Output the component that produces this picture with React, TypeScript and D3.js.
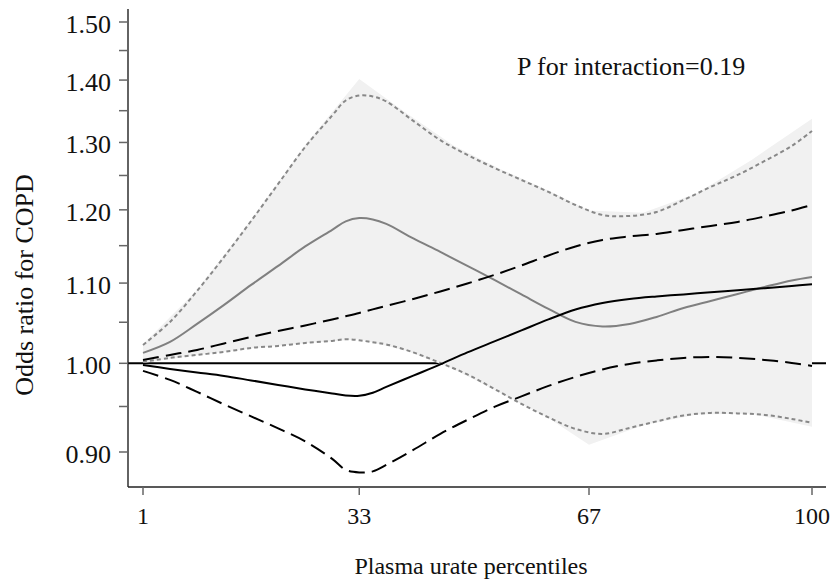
import React from "react";
import * as d3 from "d3";

// ---- data ----
const linePct = [1, 5, 9, 13, 17, 21, 25, 29, 31, 33, 35, 37, 41, 45, 49, 53, 57, 61, 65, 69, 73, 77, 81, 85, 89, 93, 97, 100];

// grey group: estimate and 95% CI (dotted)
const greyEst = [1.01243, 1.02574, 1.04791, 1.07182, 1.09758, 1.12263, 1.14894, 1.1719, 1.18368, 1.18825, 1.18638, 1.18005, 1.1599, 1.14146, 1.12263, 1.10412, 1.08527, 1.06674, 1.0504, 1.0448, 1.04791, 1.05665, 1.06801, 1.07693, 1.08592, 1.09498, 1.10347, 1.10806];
const greyUpper = [1.02209, 1.0504, 1.08979, 1.1347, 1.18427, 1.23748, 1.29307, 1.34236, 1.36648, 1.37462, 1.37299, 1.36486, 1.33373, 1.30361, 1.28082, 1.26120, 1.24337, 1.22578, 1.20697, 1.19274, 1.19132, 1.19700, 1.21418, 1.23308, 1.25078, 1.27174, 1.2946, 1.31787];
const greyLower = [1.00166, 1.00643, 1.01003, 1.01363, 1.01846, 1.02088, 1.02452, 1.02696, 1.02904, 1.02781, 1.02525, 1.0227, 1.01303, 1.00048, 0.9869, 0.97006, 0.95293, 0.93778, 0.92505, 0.91957, 0.92615, 0.93333, 0.94, 0.9428, 0.94224, 0.94056, 0.93609, 0.93166];

// black group: estimate and 95% CI (long dash)
const blackEst = [0.9981, 0.99337, 0.98925, 0.98515, 0.9799, 0.97467, 0.96948, 0.96488, 0.96248, 0.96214, 0.96568, 0.97236, 0.98543, 0.99869, 1.01303, 1.02635, 1.03985, 1.05352, 1.06611, 1.07437, 1.07949, 1.0827, 1.08527, 1.08811, 1.0907, 1.09342, 1.09628, 1.0985];
const blackUpper = [1.00405, 1.01003, 1.01604, 1.02392, 1.03186, 1.03922, 1.04604, 1.05352, 1.05752, 1.06166, 1.06615, 1.07055, 1.07949, 1.08911, 1.09952, 1.1107, 1.12330, 1.13672, 1.14894, 1.15790, 1.16267, 1.16612, 1.17168, 1.17725, 1.18287, 1.19061, 1.19913, 1.20698];
const blackLower = [0.99101, 0.98048, 0.96661, 0.95236, 0.93889, 0.9256, 0.91142, 0.89266, 0.88108, 0.87847, 0.87952, 0.88633, 0.90226, 0.91957, 0.93499, 0.94953, 0.96145, 0.97352, 0.98398, 0.99278, 0.99929, 1.00345, 1.00643, 1.00763, 1.00643, 1.00405, 1.00048, 0.99692];

// shaded band (grey group CI, drawn as a polygon)
const bandPct = [1, 9, 17, 25, 33, 40, 47, 54, 61, 67, 75, 83, 91, 100];
const bandUpper = [1.023, 1.091, 1.186, 1.296, 1.402, 1.346, 1.295, 1.259, 1.228, 1.199, 1.196, 1.224, 1.273, 1.337];
const bandLower = [1.0005, 1.0095, 1.018, 1.024, 1.029, 1.015, 0.993, 0.965, 0.937, 0.9077, 0.929, 0.941, 0.942, 0.9273];

const xTicks = [1, 33, 67, 100];
const yMajor = [0.9, 1.0, 1.1, 1.2, 1.3, 1.4, 1.5];
const yMinor = [0.95, 1.05, 1.15, 1.25, 1.35, 1.45];

const W = 838;
const H = 585;
const FONT = '"Liberation Serif", "Times New Roman", Times, serif';

export default function App() {
  const x = d3.scaleLinear().domain([1, 100]).range([143, 812]);
  const y = d3.scaleLog().domain([0.9, 1.5]).range([452, 22]);
  const axisX = 128;
  const axisY = 487;

  const line = (vals: number[]) =>
    d3
      .line<number>()
      .x((_, i) => x(linePct[i]))
      .y((v) => y(v))
      .curve(d3.curveCatmullRom.alpha(0.5))(vals) || "";

  const band =
    d3
      .area<number>()
      .x((_, i) => x(bandPct[i]))
      .y0((_, i) => y(bandLower[i]))
      .y1((v) => y(v))
      .curve(d3.curveLinear)(bandUpper) || "";

  const txt = { fontFamily: FONT, fill: "#111" } as const;

  return (
    <svg
      width={W}
      height={H}
      style={{ position: "absolute", left: 0, top: 0, background: "#fff", fontFamily: FONT }}
    >
      <rect x={0} y={0} width={W} height={H} fill="#fff" />
      {/* reference line at OR = 1 */}
      <line x1={axisX} x2={826} y1={y(1)} y2={y(1)} stroke="#000" strokeWidth={2} />
      {/* shaded CI band */}
      <path d={band} fill="#f1f1f1" stroke="none" />

      {/* grey group */}
      <path d={line(greyUpper)} fill="none" stroke="#888" strokeWidth={2} strokeDasharray="4 3" />
      <path d={line(greyLower)} fill="none" stroke="#888" strokeWidth={2} strokeDasharray="4 3" />
      <path d={line(greyEst)} fill="none" stroke="#808080" strokeWidth={2} />

      {/* black group */}
      <path d={line(blackUpper)} fill="none" stroke="#000" strokeWidth={2} strokeDasharray="16 7" />
      <path d={line(blackLower)} fill="none" stroke="#000" strokeWidth={2} strokeDasharray="16 7" />
      <path d={line(blackEst)} fill="none" stroke="#000" strokeWidth={2} />

      {/* y axis */}
      <line x1={axisX} x2={axisX} y1={9} y2={axisY} stroke="#222" strokeWidth={1.4} />
      {yMajor.map((t) => (
        <g key={"ymj" + t}>
          <line x1={119} x2={axisX} y1={y(t)} y2={y(t)} stroke="#666" strokeWidth={1.5} />
          <text x={111} y={y(t) + 11} textAnchor="end" fontSize={26} style={txt}>
            {t.toFixed(2)}
          </text>
        </g>
      ))}
      {yMinor.map((t) => (
        <line key={"ymn" + t} x1={119} x2={axisX} y1={y(t)} y2={y(t)} stroke="#666" strokeWidth={1.5} />
      ))}

      {/* x axis */}
      <line x1={axisX} x2={826} y1={axisY} y2={axisY} stroke="#222" strokeWidth={1.4} />
      {xTicks.map((t) => (
        <g key={"xt" + t}>
          <line x1={x(t)} x2={x(t)} y1={axisY} y2={495} stroke="#666" strokeWidth={1.5} />
          <text x={x(t)} y={524} textAnchor="middle" fontSize={24} style={txt}>
            {t}
          </text>
        </g>
      ))}

      {/* labels */}
      <text x={471} y={574} textAnchor="middle" fontSize={24} style={txt}>
        Plasma urate percentiles
      </text>
      <text transform={`translate(33,285) rotate(-90)`} textAnchor="middle" fontSize={26} style={txt}>
        Odds ratio for COPD
      </text>
      <text x={517} y={75} fontSize={26} style={txt}>
        P for interaction=0.19
      </text>
    </svg>
  );
}
